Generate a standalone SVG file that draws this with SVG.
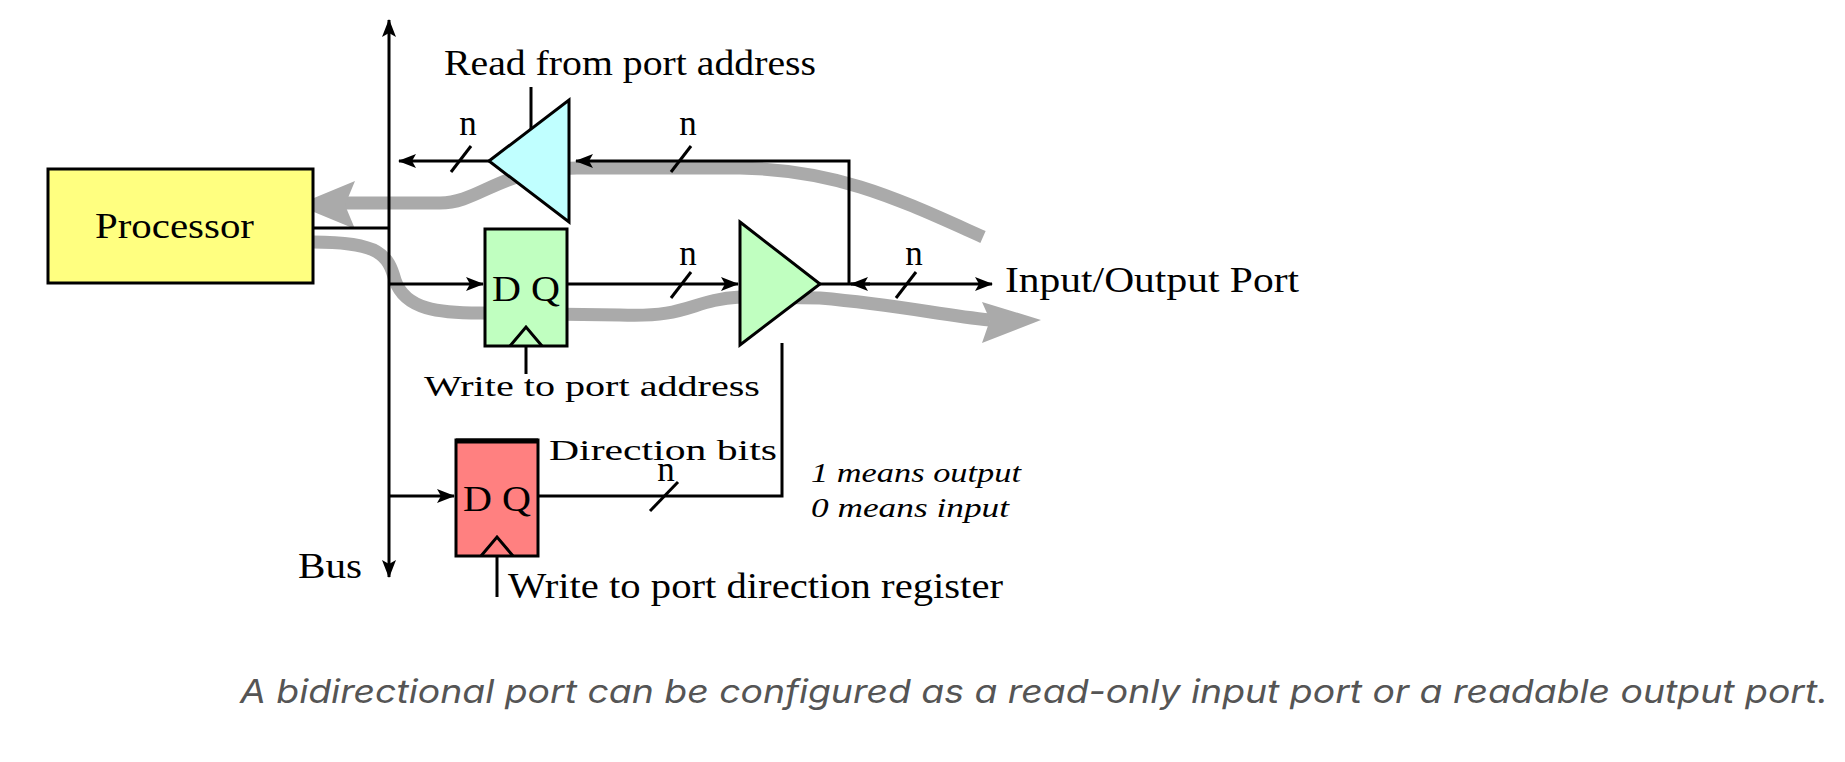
<svg xmlns="http://www.w3.org/2000/svg" width="1845" height="762" viewBox="0 0 1845 762">
<style>
.t{font-family:"Liberation Serif","Times New Roman",serif;font-size:35px;fill:#000}
.s{font-size:30px}
.i{font-family:"Liberation Serif","Times New Roman",serif;font-size:27px;font-style:italic;fill:#000}
.w{fill:none;stroke:#000;stroke-width:3}
.f{fill:none;stroke:#aaa;stroke-width:13}
.cap{font-family:Inter,"Noto Sans",sans-serif;font-size:33px;font-style:italic;fill:#555}
</style>
<defs>
<marker id="a" markerWidth="18" markerHeight="14" refX="17" refY="7" orient="auto-start-reverse" markerUnits="userSpaceOnUse"><path d="M0,0 L18,7 L0,14 L4,7 Z" fill="#000"/></marker>
</defs>
<g id="flows">
<path class="f" d="M983,237 C900,200 840,170 740,168 L577,168 C500,168 480,203 440,203 L345,203"/>
<path d="M297,205 L355,181 L345,205 L355,229 Z" fill="#aaa"/>
<path class="f" d="M313,242 C380,242 388,255 395,280 C405,310 440,313 480,313 L620,315 C690,318 690,300 740,297 L820,298 C900,305 940,315 990,320"/>
<path d="M1041,320 L982,302 L990,320 L982,343 Z" fill="#aaa"/>
</g>
<g id="processor"><rect x="48" y="169" width="265" height="114" fill="#ffff80" stroke="#000" stroke-width="3"/><text class="t" x="95" y="238" textLength="159" lengthAdjust="spacingAndGlyphs">Processor</text></g>
<g id="bus"><line class="w" x1="389" y1="20" x2="389" y2="577" marker-start="url(#a)" marker-end="url(#a)"/><text class="t" x="298" y="578" textLength="64" lengthAdjust="spacingAndGlyphs">Bus</text></g>
<g id="readbuf"><path d="M489,161 L569,100 L569,222 Z" fill="#c0ffff" stroke="#000" stroke-width="3"/><line class="w" x1="531" y1="87" x2="531" y2="129"/><text class="t" x="444" y="75" textLength="372" lengthAdjust="spacingAndGlyphs">Read from port address</text></g>
<g id="dff1"><rect x="485" y="229" width="82" height="117" fill="#c0ffc0" stroke="#000" stroke-width="3"/><path class="w" d="M510,346 L526,327 L542,346"/><text class="t" x="492" y="301" textLength="68" lengthAdjust="spacingAndGlyphs">D Q</text><line class="w" x1="526" y1="346" x2="526" y2="374"/><text class="t s" x="424" y="396" textLength="336" lengthAdjust="spacingAndGlyphs">Write to port address</text></g>
<g id="writebuf"><path d="M740,222 L820,284 L740,345 Z" fill="#c0ffc0" stroke="#000" stroke-width="3"/></g>
<g id="dff2"><rect x="456" y="440" width="82" height="116" fill="#ff8080" stroke="#000" stroke-width="3"/><line x1="456" y1="441" x2="538" y2="441" stroke="#000" stroke-width="5"/><path class="w" d="M481,556 L497,537 L513,556"/><text class="t" x="463" y="511" textLength="68" lengthAdjust="spacingAndGlyphs">D Q</text><line class="w" x1="497" y1="556" x2="497" y2="597"/><text class="t" x="508" y="598" textLength="495" lengthAdjust="spacingAndGlyphs">Write to port direction register</text></g>
<g id="labels">
<text class="t" x="1005" y="292" textLength="294" lengthAdjust="spacingAndGlyphs">Input/Output Port</text>
<text class="t s" x="549" y="460" textLength="228" lengthAdjust="spacingAndGlyphs">Direction bits</text>
<text class="i" x="811" y="482" textLength="210" lengthAdjust="spacingAndGlyphs">1 means output</text>
<text class="i" x="811" y="517" textLength="198" lengthAdjust="spacingAndGlyphs">0 means input</text>
<text class="t" x="468" y="135" text-anchor="middle">n</text>
<text class="t" x="688" y="135" text-anchor="middle">n</text>
<text class="t" x="688" y="265" text-anchor="middle">n</text>
<text class="t" x="914" y="265" text-anchor="middle">n</text>
<text class="t" x="666" y="481" text-anchor="middle">n</text>
</g>
<g id="connectors">
<line class="w" x1="313" y1="228" x2="389" y2="228"/>
<line class="w" x1="489" y1="161" x2="399" y2="161" marker-end="url(#a)"/>
<path class="w" d="M849,284 L849,161 L576,161" marker-end="url(#a)"/>
<line class="w" x1="389" y1="284" x2="483" y2="284" marker-end="url(#a)"/>
<line class="w" x1="567" y1="284" x2="738" y2="284" marker-end="url(#a)"/>
<line class="w" x1="820" y1="284" x2="992" y2="284" marker-end="url(#a)"/>
<line class="w" x1="870" y1="284" x2="851" y2="284" marker-end="url(#a)"/>
<line class="w" x1="389" y1="496" x2="454" y2="496" marker-end="url(#a)"/>
<path class="w" d="M538,496 L782,496 L782,343"/>
<g class="w" stroke-width="2">
<line x1="451" y1="172" x2="471" y2="146"/>
<line x1="671" y1="172" x2="691" y2="146"/>
<line x1="671" y1="298" x2="691" y2="272"/>
<line x1="896" y1="298" x2="916" y2="272"/>
<line x1="650" y1="511" x2="678" y2="482"/>
</g>
</g>
<text class="cap" x="240" y="703" textLength="1588" lengthAdjust="spacingAndGlyphs">A bidirectional port can be configured as a read-only input port or a readable output port.</text>
</svg>
